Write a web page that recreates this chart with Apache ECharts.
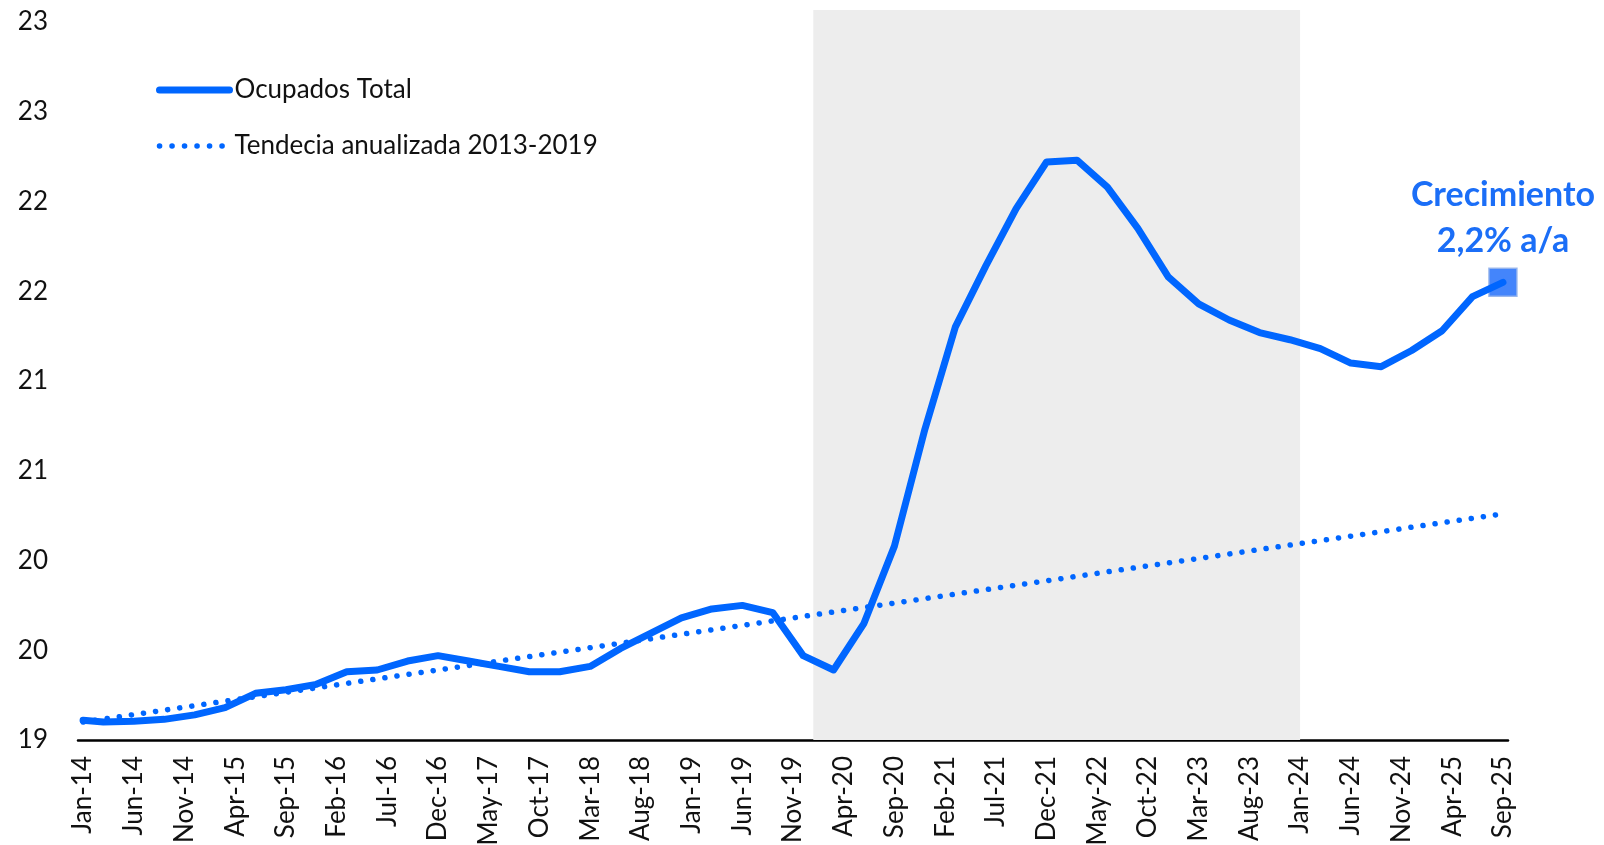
<!DOCTYPE html>
<html>
<head>
<meta charset="utf-8">
<script src="https://cdn.jsdelivr.net/npm/echarts@6/dist/echarts.min.js"></script>
<style>
html, body { margin: 0; padding: 0; background: #fff; }
#main { width: 1604px; height: 845px; }
</style>
</head>
<body>
<div id="main"></div>
<script>
// eje x: meses de Jan-14 a Sep-25
var mesesAbrev = ['Jan', 'Feb', 'Mar', 'Apr', 'May', 'Jun', 'Jul', 'Aug', 'Sep', 'Oct', 'Nov', 'Dec'];
var anios = ['14', '15', '16', '17', '18', '19', '20', '21', '22', '23', '24', '25'];
var ultimoMes = 'Sep-25';

// Ocupados Total (millones), datos trimestrales
var ocupadosMeses = [
    'Jan-14', 'Mar-14', 'Jun-14', 'Sep-14', 'Dec-14',
    'Mar-15', 'Jun-15', 'Sep-15', 'Dec-15',
    'Mar-16', 'Jun-16', 'Sep-16', 'Dec-16',
    'Mar-17', 'Jun-17', 'Sep-17', 'Dec-17',
    'Mar-18', 'Jun-18', 'Sep-18', 'Dec-18',
    'Mar-19', 'Jun-19', 'Sep-19', 'Dec-19',
    'Mar-20', 'Jun-20', 'Sep-20', 'Dec-20',
    'Mar-21', 'Jun-21', 'Sep-21', 'Dec-21',
    'Mar-22', 'Jun-22', 'Sep-22', 'Dec-22',
    'Mar-23', 'Jun-23', 'Sep-23', 'Dec-23',
    'Mar-24', 'Jun-24', 'Sep-24', 'Dec-24',
    'Mar-25', 'Jun-25', 'Sep-25'
];
var ocupados = [
    19.11, 19.10, 19.105, 19.115, 19.14,
    19.18, 19.26, 19.28, 19.31,
    19.38, 19.39, 19.44, 19.47,
    19.44, 19.41, 19.38, 19.38,
    19.41, 19.51, 19.595, 19.68,
    19.73, 19.75, 19.71, 19.47,
    19.39, 19.65, 20.08, 20.73,
    21.30, 21.64, 21.96, 22.22,
    22.23, 22.08, 21.85, 21.58,
    21.43, 21.34, 21.27, 21.23,
    21.18, 21.10, 21.08, 21.17,
    21.28, 21.47, 21.55
];

// Tendencia anualizada 2013-2019 (recta)
var tendenciaMeses = ['Jan-14', 'Sep-25'];
var tendencia = [19.10, 20.26];

// periodo sombreado
var sombraInicio = 'Jan-20';
var sombraFin = 'Jan-24';

var anotacion = 'Crecimiento\n2,2% a/a';

var fuente = 'Lato, "Open Sans", sans-serif';
var azul = '#0066ff';
var yMin = 19, yMax = 23.067;

var meses = [];
anios.forEach(function (a) {
    mesesAbrev.forEach(function (m) {
        if (meses.length && meses[meses.length - 1] === ultimoMes) return;
        meses.push(m + '-' + a);
    });
});

function serieMensual(etiquetas, valores) {
    var d = meses.map(function () { return null; });
    etiquetas.forEach(function (e, i) {
        d[meses.indexOf(e)] = valores[i];
    });
    return d;
}

var option = {
    backgroundColor: '#fff',
    animation: false,
    grid: {
        left: 78,
        right: 96,
        top: 10,
        bottom: 105,
        outerBoundsMode: 'none'
    },
    legend: {
        orient: 'vertical',
        left: 151,
        top: 72,
        itemWidth: 70,
        itemHeight: 14,
        itemGap: 30,
        itemStyle: { opacity: 0 },
        data: [
            {
                name: 'Ocupados Total',
                lineStyle: { width: 7, cap: 'round' }
            },
            {
                name: 'Tendecia anualizada 2013-2019',
                lineStyle: { width: 5.5, type: [0.1, 12.4], cap: 'round' }
            }
        ],
        textStyle: {
            fontFamily: fuente,
            fontSize: 26,
            color: '#111'
        }
    },
    xAxis: {
        type: 'category',
        boundaryGap: true,
        data: meses,
        axisLine: {
            lineStyle: { color: '#000', width: 2.5 }
        },
        axisTick: { show: false },
        splitLine: { show: false },
        axisLabel: {
            interval: 4,
            rotate: 90,
            margin: 16,
            fontFamily: fuente,
            fontSize: 26,
            color: '#111'
        }
    },
    yAxis: {
        type: 'value',
        min: yMin,
        max: yMax,
        interval: 0.5,
        axisLine: { show: false },
        axisTick: { show: false },
        splitLine: { show: false },
        axisLabel: {
            margin: 30,
            showMaxLabel: false,
            fontFamily: fuente,
            fontSize: 26,
            color: '#111',
            formatter: function (v) { return Math.round(v); }
        }
    },
    series: [
        {
            name: 'sombra',
            type: 'line',
            data: [],
            z: 1,
            silent: true,
            markArea: {
                silent: true,
                itemStyle: { color: '#ededed' },
                data: [[
                    { xAxis: sombraInicio, yAxis: yMin },
                    { xAxis: sombraFin, yAxis: yMax }
                ]]
            }
        },
        {
            name: 'Tendecia anualizada 2013-2019',
            type: 'line',
            data: serieMensual(tendenciaMeses, tendencia),
            connectNulls: true,
            symbol: 'none',
            z: 2,
            lineStyle: {
                color: azul,
                width: 5.5,
                type: [0.1, 12.1],
                cap: 'round'
            },
            itemStyle: { color: azul }
        },
        {
            name: 'Ocupados Total',
            type: 'line',
            data: serieMensual(ocupadosMeses, ocupados),
            connectNulls: true,
            symbol: 'none',
            z: 3,
            lineStyle: {
                color: azul,
                width: 7,
                cap: 'round',
                join: 'round'
            },
            itemStyle: { color: azul },
            markPoint: {
                symbol: 'rect',
                symbolSize: 28,
                z: 1,
                itemStyle: {
                    color: 'rgba(35, 112, 250, 0.85)',
                    borderColor: 'rgba(150, 180, 235, 0.9)',
                    borderWidth: 1.5
                },
                label: {
                    show: true,
                    position: 'top',
                    distance: 4,
                    formatter: anotacion,
                    align: 'center',
                    fontFamily: fuente,
                    fontWeight: 'bold',
                    fontSize: 34,
                    lineHeight: 46,
                    color: '#1b6ef7'
                },
                data: [{ coord: [ultimoMes, ocupados[ocupados.length - 1]] }]
            }
        }
    ]
};

var myChart = echarts.init(document.getElementById('main'));
myChart.setOption(option);
</script>
</body>
</html>
